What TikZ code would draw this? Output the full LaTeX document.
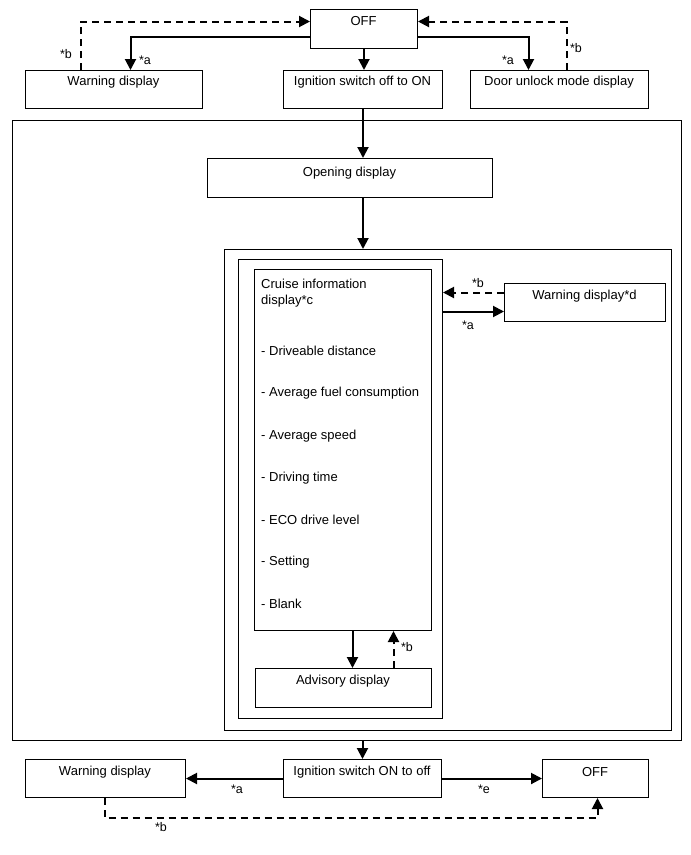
\documentclass[tikz,border=0pt]{standalone}
\usepackage{fontspec}
\setmainfont{Liberation Sans}
\usetikzlibrary{arrows.meta}
\begin{document}
\begin{tikzpicture}[x=1pt,y=-1pt,
  font=\fontsize{13}{15}\selectfont,
  box/.style={draw,line width=1pt,inner sep=0pt,anchor=north west},
  txt/.style={inner sep=0pt},
  lbl/.style={inner sep=0pt,font=\fontsize{12.5}{14}\selectfont},
  arr/.style={line width=2pt,-{Triangle[length=11pt,width=11pt]}},
  darr/.style={line width=2pt,dash pattern=on 7pt off 5pt,-{Triangle[length=11pt,width=11pt]}}]
\useasboundingbox (0,0) rectangle (691,855);
% boxes: (x1,y1) with width/height
\node[box,minimum width=107pt,minimum height=39pt] (off1) at (310,9) {};
\node[box,minimum width=177pt,minimum height=38pt] (wd1) at (25,70) {};
\node[box,minimum width=159pt,minimum height=38pt] (ign1) at (283,70) {};
\node[box,minimum width=178pt,minimum height=38pt] (door) at (470,70) {};
\node[box,minimum width=669pt,minimum height=620pt] (outer) at (12,120) {};
\node[box,minimum width=285pt,minimum height=39pt] (open) at (207,158) {};
\node[box,minimum width=447pt,minimum height=481pt] (mid) at (224,249) {};
\node[box,minimum width=204pt,minimum height=459pt] (inner) at (238,259) {};
\node[box,minimum width=177pt,minimum height=361pt] (cruise) at (254,269) {};
\node[box,minimum width=176pt,minimum height=39pt] (adv) at (255,668) {};
\node[box,minimum width=161pt,minimum height=38pt] (wd2) at (504,283) {};
\node[box,minimum width=160pt,minimum height=38pt] (wd3) at (25,759) {};
\node[box,minimum width=158pt,minimum height=38pt] (ign2) at (283,759) {};
\node[box,minimum width=106pt,minimum height=38pt] (off2) at (542,759) {};
% texts
\node[txt] (toff1) at (363.5,21.5) {OFF};
\node[txt] (twd1) at (113.5,82.5) {Warning display};
\node[txt] (tign1) at (362.5,82.5) {Ignition switch off to ON};
\node[txt] (tdoor) at (559,82.5) {Door unlock mode display};
\node[txt] (topen) at (349.5,173.5) {Opening display};
\node[txt] (twd2) at (584.5,296.5) {Warning display*d};
\node[txt] (tadv) at (343,681.5) {Advisory display};
\node[txt] (twd3) at (105,772.5) {Warning display};
\node[txt] (tign2) at (362,772.5) {Ignition switch ON to off};
\node[txt] (toff2) at (595,772.5) {OFF};
\node[txt,anchor=west] (c1) at (261,284) {Cruise information};
\node[txt,anchor=west] (c2) at (261,301) {display*c};
\node[txt,anchor=west] (c3) at (261,351) {- Driveable distance};
\node[txt,anchor=west] (c4) at (261,393) {- Average fuel consumption};
\node[txt,anchor=west] (c5) at (261,436) {- Average speed};
\node[txt,anchor=west] (c6) at (261,478) {- Driving time};
\node[txt,anchor=west] (c7) at (261,520) {- ECO drive level};
\node[txt,anchor=west] (c8) at (261,562) {- Setting};
\node[txt,anchor=west] (c9) at (261,604) {- Blank};
% labels
\node[lbl] (l1) at (66,54) {*b};
\node[lbl] (l2) at (145,60) {*a};
\node[lbl] (l3) at (508,60) {*a};
\node[lbl] (l4) at (576,48) {*b};
\node[lbl] (l5) at (478,283) {*b};
\node[lbl] (l6) at (468,325) {*a};
\node[lbl] (l7) at (407,647) {*b};
\node[lbl] (l8) at (237,789) {*a};
\node[lbl] (l9) at (484,789) {*e};
\node[lbl] (l10) at (161,827) {*b};
% connectors top
\draw[arr] ([yshift=-7.5pt]off1.west) -| ([xshift=16.5pt]wd1.north);
\draw[darr] ([xshift=-33.5pt]wd1.north) |- ([yshift=7.5pt]off1.west);
\draw[arr] (off1.south) -- (off1.south |- ign1.north);
\draw[arr] ([yshift=-7.5pt]off1.east) -| ([xshift=-31pt]door.north);
\draw[darr] ([xshift=7pt]door.north) |- ([yshift=7.5pt]off1.east);
\draw[arr] (ign1.south) -- (ign1.south |- open.north);
\draw[arr] (open.south -| ign1.south) -- (mid.north -| ign1.south);
% middle
\draw[arr] ([yshift=-9pt]wd2.west -| inner.east) -- ([yshift=-9pt]wd2.west);
\draw[darr] ([yshift=10pt]wd2.west) -- ([yshift=10pt]wd2.west -| inner.east);
\draw[arr] ([xshift=9.5pt]cruise.south) -- ([xshift=9.5pt]cruise.south |- adv.north);
\draw[darr] ([xshift=50.5pt]cruise.south |- adv.north) -- ([xshift=50.5pt]cruise.south);
% bottom
\draw[arr] (outer.south -| ign2.north) -- (ign2.north);
\draw[arr] (ign2.west) -- (wd3.east);
\draw[arr] (ign2.east) -- (off2.west);
\draw[darr] ([xshift=-1pt]wd3.south) -- ++(0,20) -| ([xshift=2pt]off2.south);
\end{tikzpicture}
\end{document}
